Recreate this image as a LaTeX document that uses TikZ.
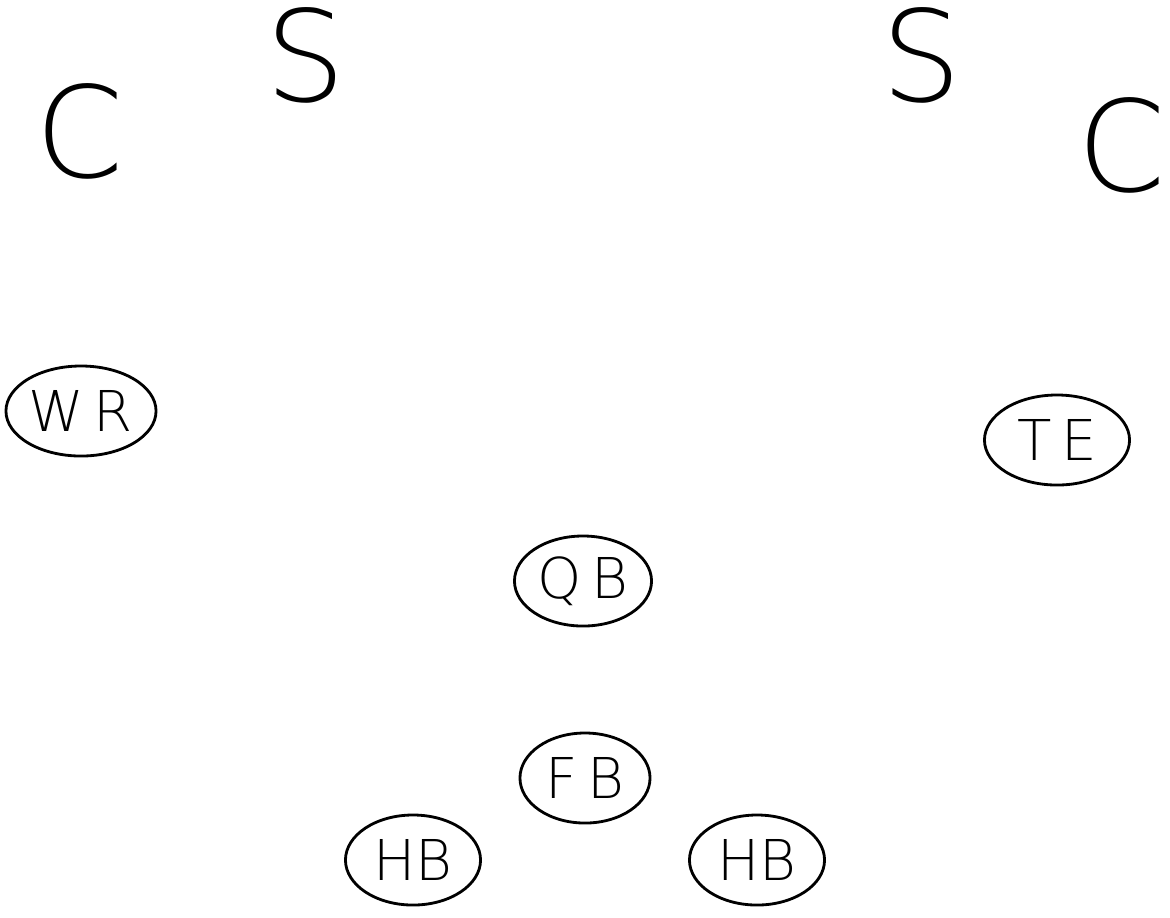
\documentclass[tikz,border=0pt]{standalone}
\usepackage{fontspec}
\newfontfamily\thinfont{DejaVu Sans ExtraLight}
\usepackage{tikz}
\usetikzlibrary{shapes,positioning}
\tikzstyle{player}=[ellipse, draw=black, line width=0.8pt, minimum width=1.37cm, minimum height=0.9cm, inner sep=0pt, font=\thinfont\fontsize{16}{16}\selectfont]
\tikzstyle{def}=[inner sep=0pt, font=\thinfont\fontsize{36}{36}\selectfont]

\begin{document}
\begin{tikzpicture}[x=0.01cm,y=-0.01cm]
    \useasboundingbox (0,0) rectangle (1170,917);
    % defense
    \node[def] (cl) at (80, 131) {C};
    \node[def] (sl) at (306, 55) {S};
    \node[def] (sr) at (922, 55) {S};
    \node[def] (cr) at (1122, 145) {C};

    % offense
    \node[player, minimum width=1.5cm] (wr) at (81, 411) {W\,R};
    \node[player, minimum width=1.45cm] (te) at (1057, 440) {T\,E};
    \node[player] (qb) at (583, 581) {Q\,B};
    \node[player, minimum width=1.3cm] (fb) at (585, 778) {F\,B};
    \node[player, minimum width=1.35cm] (hbl) at (413, 860) {HB};
    \node[player, minimum width=1.35cm] (hbr) at (757, 860) {HB};
\end{tikzpicture}
\end{document}
